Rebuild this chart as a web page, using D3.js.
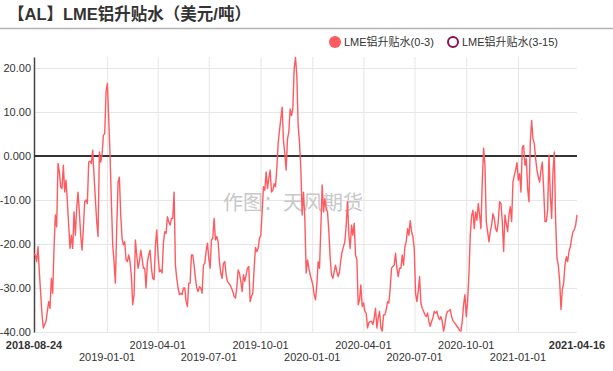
<!DOCTYPE html>
<html>
<head>
<meta charset="utf-8">
<script src="https://cdn.jsdelivr.net/npm/d3@7"></script>
<style>
  body { margin: 0; background: #fff; }
  #svg-container { width: 613px; height: 371px; }
  text { font-family: "Liberation Sans", Arial, "Noto Sans CJK SC", sans-serif; }
</style>
</head>
<body>
<div id="svg-container"></div>
<script>
////////////////////////////////////////////////////////////////////
////////////////////////////  Data  ////////////////////////////////
const startDate = "2018-08-24";
const endDate = "2021-04-16";

// LME aluminium spread (0-3), USD/t, evenly sampled from start to end
const spread03 = [
  -22.3, -22.5, -24.0, -20.6, -26.3, -31.2, -36.1, -39.1, -38.3, -37.6,
  -35.3, -33.1, -34.6, -27.8, -31.2, -21.0, -13.4, -16.1, -1.7, -3.6,
  -7.0, -7.4, -2.1, -8.2, -5.5, -10.4, -15.7, -21.0, -18.0, -21.0,
  -12.7, -18.0, -11.9, -8.2, -12.7, -18.0, -21.4, -16.5, -10.4, -10.0,
  -10.8, -1.4, -1.2, -1.7, 1.3, -4.4, -9.7, -14.9, -18.3, 0.9,
  -1.4, 0.2, 4.7, 5.1, 14.5, 16.5, 8.5, 0.2, -10.4, -20.2,
  -24.0, -28.9, -16.5, -5.9, -4.8, -13.4, -18.7, -20.2, -19.5, -23.6,
  -24.0, -22.5, -24.0, -27.4, -33.8, -31.5, -19.1, -22.5, -25.5, -24.0,
  -21.4, -23.2, -25.5, -25.5, -30.0, -24.0, -22.5, -21.4, -25.5, -27.8,
  -28.1, -20.6, -16.8, -22.5, -26.3, -25.9, -26.6, -19.8, -17.2, -17.6,
  -13.8, -14.9,
  -15.7, -14.2, -14.2, -8.2, -24.8, -27.8, -30.0, -31.5, -31.2, -31.5,
  -30.0, -30.0, -33.1, -34.2, -28.9, -28.9, -22.5, -22.5, -24.8, -27.8,
  -30.0, -30.8, -29.7, -30.0, -31.2, -24.8, -24.4, -21.7, -19.8, -23.2,
  -25.5, -19.1, -18.7, -14.2, -19.1, -18.3, -19.5, -24.0, -26.6, -27.8,
  -24.4, -24.0, -27.0, -28.5, -28.9, -29.3, -30.0, -30.8, -31.9, -32.3,
  -30.0, -25.9, -26.6, -28.5, -30.8, -27.0, -28.5, -27.0, -25.5, -25.1,
  -33.1, -31.9, -31.2, -25.5, -20.8, -21.7, -21.0, -18.7, -18.0, -12.7,
  -7.0, -7.8, -3.6, -7.4, -5.1, -3.2, -8.2, -7.8, -6.3, -7.0,
  -2.9, 2.8, 5.8, 8.5, 11.1, 3.5, 0.5, -3.2, 3.9, 5.4,
  10.7, 9.2, 10.7, 19.8, 22.4, 18.3, 6.9, 3.2, -2.9, -13.4,
  -8.2, -14.2,
  -26.6, -23.6, -25.5, -27.0, -28.1, -29.3, -31.5, -32.7, -29.3, -24.0,
  -25.5, -16.5, -6.6, -12.7, -9.7, -11.9, -12.7, -17.2, -23.2, -27.0,
  -27.8, -26.3, -24.8, -26.3, -27.4, -26.3, -23.6, -21.7, -20.6, -19.5,
  -15.7, -10.4, -18.0, -21.0, -15.7, -18.0, -15.3, -22.5, -23.6, -33.8,
  -32.7, -29.3, -34.2, -33.4, -35.3, -35.7, -39.1, -37.9, -37.6, -37.6,
  -38.3, -36.8, -34.6, -39.1, -36.8, -35.3, -39.1, -39.8, -36.1, -36.1,
  -34.9, -33.1, -33.4, -30.0, -25.5, -25.1, -24.8, -22.1, -25.5, -27.4,
  -25.5, -25.5, -22.5, -24.8, -20.6, -19.5, -16.5, -18.0, -14.7, -17.2,
  -18.3, -21.0, -31.2, -33.1, -30.8, -27.4, -33.4, -34.6, -35.3, -36.1,
  -36.5, -35.7, -37.6, -38.7, -37.6, -36.8, -35.3, -35.7, -35.3, -36.5,
  -37.2,
  -36.5, -37.6, -39.8, -38.3, -36.1, -35.3, -35.2, -34.9, -36.5, -37.4,
  -37.8, -38.2, -38.7, -39.1, -39.7, -39.8, -37.6, -33.8, -31.5, -36.5,
  -33.1, -27.0, -18.0, -13.6, -12.3, -16.5, -12.7, -14.6, -10.8, -13.4,
  -16.5, -5.9, 1.8, -2.1, -14.9, -17.2, -19.5, -17.2, -15.7, -13.1,
  -14.2, -16.5, -17.2, -14.9, -10.4, -10.8, -14.9, -21.7, -13.4, -15.3,
  -17.2, -13.4, -11.5, -14.9, -5.9, -4.4, -3.2, -1.5, -5.5, -4.0,
  -8.2, 2.0, 2.4, -2.1, -0.6, -7.4, -10.4, 3.2, 8.1, 3.9,
  2.8, -0.6, -3.2, -4.8, -5.9, -3.2, -1.4, -7.4, -14.9, -14.9,
  -12.3, 0.2, -8.9, -14.2, -3.6, 0.9, -14.9, -23.2, -24.8, -28.5,
  -34.9, -30.4, -28.9, -24.8, -22.9, -24.0, -21.7, -20.6, -18.7, -17.2,
  -16.8, -15.7, -13.4
];

// second series is in the legend only, no points drawn in the picture
const spread315 = [];

const seriesNames = ["LME铝升贴水(0-3)", "LME铝升贴水(3-15)"];
const seriesColors = ["#ff5a60", "#8b1150"];

const xTickDates = [
  "2018-08-24", "2019-01-01", "2019-04-01", "2019-07-01", "2019-10-01", "2020-01-01",
  "2020-04-01", "2020-07-01", "2020-10-01", "2021-01-01", "2021-04-16"
];
const yTickValues = [-40, -30, -20, -10, 0, 10, 20];
const yTickLabels = ["-40.00", "-30.00", "-20.00", "-10.00", "0.000", "10.00", "20.00"];

const title = "【AL】LME铝升贴水（美元/吨）";
const watermark = "作图：天风期货";

////////////////////////////////////////////////////////////////////
////////////////////////////  Init  ////////////////////////////////
const width = 613;
const height = 371;
const margin = { top: 57, right: 36, bottom: 39, left: 34 };

const svg = d3
  .select("#svg-container")
  .append("svg")
  .attr("width", width)
  .attr("height", height);

const parseDate = d3.timeParse("%Y-%m-%d");
const t0 = parseDate(startDate);
const t1 = parseDate(endDate);

const data = spread03.map((v, i) => ({
  date: new Date(+t0 + (i * (t1 - t0)) / (spread03.length - 1)),
  value: v,
}));

// scale
const xScale = d3.scaleTime().domain([t0, t1]).range([margin.left, width - margin.right]);
const yScale = d3.scaleLinear().domain([-40, 22.5]).range([height - margin.bottom, margin.top]);

////////////////////////////////////////////////////////////////////
////////////////////////////  Title  ///////////////////////////////
svg
  .append("text")
  .attr("x", 8)
  .attr("y", 20)
  .attr("font-size", 16.5)
  .attr("font-weight", "bold")
  .attr("fill", "#333")
  .text(title);

svg
  .append("line")
  .attr("x1", 0)
  .attr("x2", width)
  .attr("y1", 28.5)
  .attr("y2", 28.5)
  .attr("stroke", "#b4b4b4")
  .attr("stroke-width", 1.5);

////////////////////////////////////////////////////////////////////
////////////////////////////  Grid  ////////////////////////////////
svg
  .append("g")
  .selectAll("line")
  .data(yTickValues.filter((d) => d !== 0))
  .join("line")
  .attr("x1", margin.left)
  .attr("x2", width - margin.right)
  .attr("y1", (d) => yScale(d) + 0.5)
  .attr("y2", (d) => yScale(d) + 0.5)
  .attr("stroke", "#e6e6e6");

svg
  .append("g")
  .selectAll("line")
  .data(xTickDates.slice(1, -1))
  .join("line")
  .attr("x1", (d) => xScale(parseDate(d)) + 0.5)
  .attr("x2", (d) => xScale(parseDate(d)) + 0.5)
  .attr("y1", margin.top)
  .attr("y2", height - margin.bottom)
  .attr("stroke", "#e6e6e6");

// watermark
svg
  .append("text")
  .attr("x", 293)
  .attr("y", 210)
  .attr("text-anchor", "middle")
  .attr("font-size", 20)
  .attr("fill", "#c8c8c8")
  .text(watermark);

////////////////////////////////////////////////////////////////////
////////////////////////////  Axis  ////////////////////////////////
const yAxis = d3
  .axisLeft(yScale)
  .tickValues(yTickValues)
  .tickFormat((d, i) => yTickLabels[i])
  .tickSize(0)
  .tickPadding(3);

const yAxisG = svg
  .append("g")
  .attr("class", "y-axis")
  .attr("transform", `translate(${margin.left}, 0)`)
  .call(yAxis);

yAxisG.select(".domain").attr("stroke", "#444").attr("stroke-width", 1.5);
yAxisG.selectAll("text").attr("font-size", 11).attr("fill", "#333").attr("font-family", null);

// zero line
svg
  .append("line")
  .attr("x1", margin.left)
  .attr("x2", width - margin.right)
  .attr("y1", yScale(0))
  .attr("y2", yScale(0))
  .attr("stroke", "#333")
  .attr("stroke-width", 2);

// x labels, two alternating rows
svg
  .append("g")
  .attr("class", "x-axis")
  .selectAll("text")
  .data(xTickDates)
  .join("text")
  .attr("x", (d) => xScale(parseDate(d)))
  .attr("y", (d, i) => (i % 2 === 0 ? 349 : 361))
  .attr("text-anchor", "middle")
  .attr("font-size", 11)
  .attr("font-weight", (d, i) => (i === 0 || i === xTickDates.length - 1 ? "bold" : "normal"))
  .attr("fill", "#333")
  .text((d) => d);

////////////////////////////////////////////////////////////////////
////////////////////////////  Line  ////////////////////////////////
const line = d3
  .line()
  .x((d) => xScale(d.date))
  .y((d) => yScale(d.value));

svg
  .append("path")
  .datum(data)
  .attr("fill", "none")
  .attr("stroke", seriesColors[0])
  .attr("stroke-width", 1.4)
  .attr("stroke-linejoin", "round")
  .attr("d", line);

////////////////////////////////////////////////////////////////////
////////////////////////////  Legend  //////////////////////////////
const legendX = [335, 453];
const legend = svg
  .append("g")
  .selectAll("g")
  .data(seriesNames)
  .join("g")
  .attr("transform", (d, i) => `translate(${legendX[i]}, 42)`);

legend
  .append("circle")
  .attr("r", (d, i) => (i === 0 ? 6 : 5))
  .attr("fill", (d, i) => (i === 0 ? seriesColors[0] : "#fff"))
  .attr("stroke", (d, i) => (i === 0 ? "none" : seriesColors[1]))
  .attr("stroke-width", 2);

legend
  .append("text")
  .attr("x", 9)
  .attr("y", 4)
  .attr("font-size", 11)
  .attr("fill", "#333")
  .text((d) => d);
</script>
</body>
</html>
